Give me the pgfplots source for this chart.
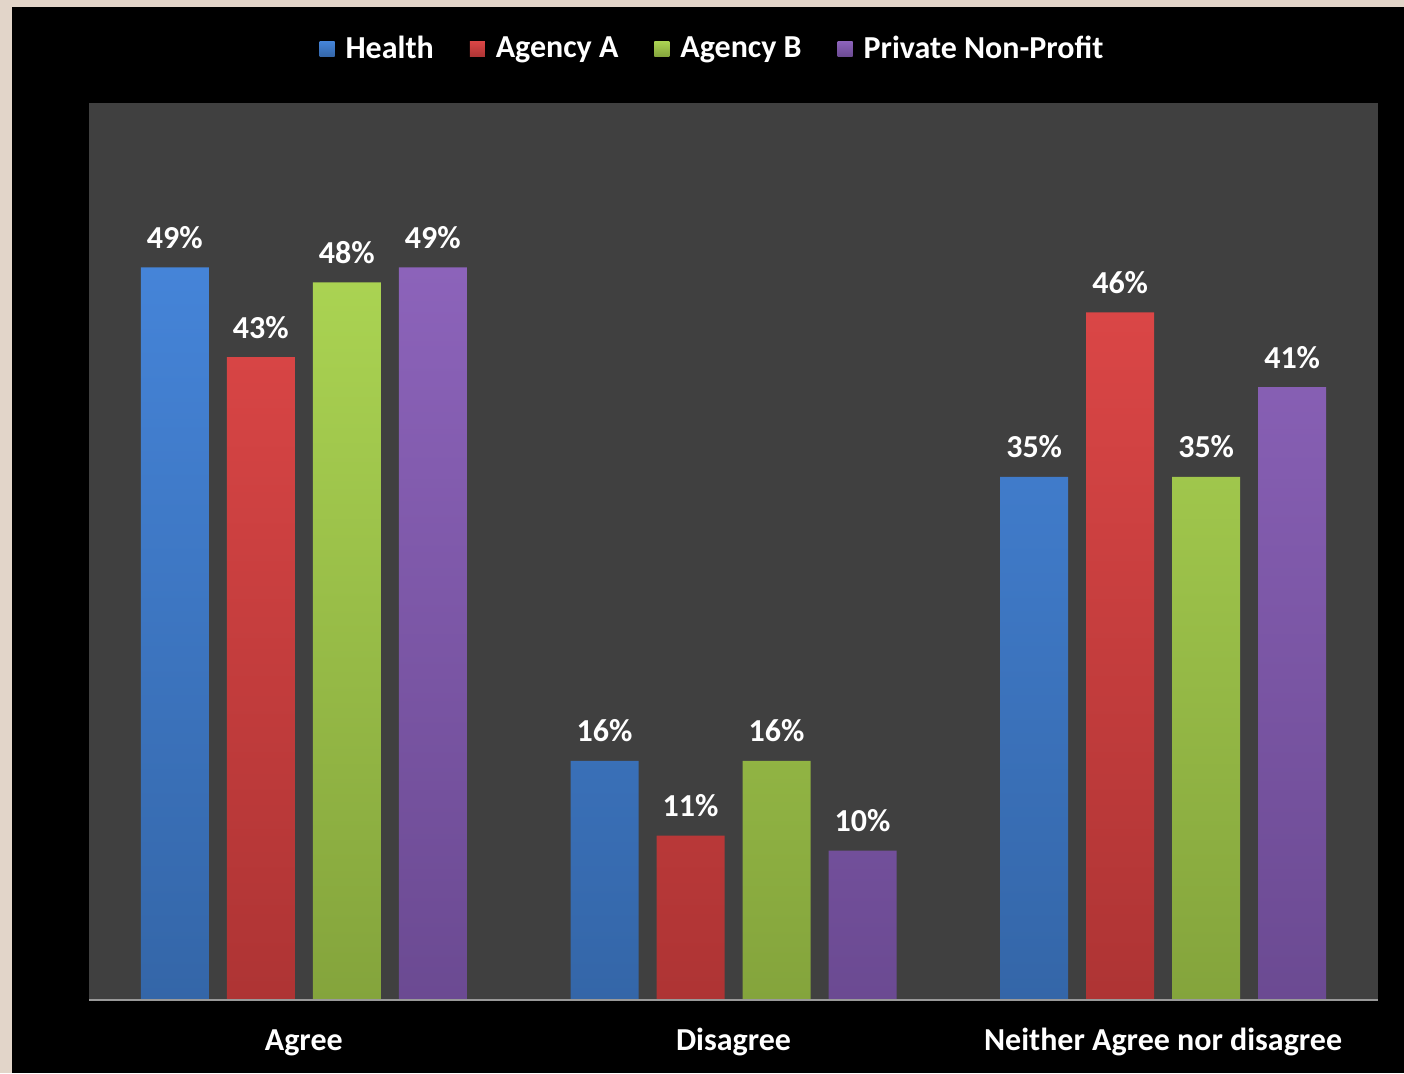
\documentclass[border=0pt]{standalone}
\usepackage{pgfplots}
\pgfplotsset{compat=1.18}
\usepackage{fontspec}
\setmainfont{Carlito}
\definecolor{beige}{HTML}{E2D5C9}
\definecolor{plotbg}{HTML}{404040}
\definecolor{bluetop}{HTML}{4584D8}
\definecolor{bluebot}{HTML}{3466A8}
\definecolor{redtop}{HTML}{DA4646}
\definecolor{redbot}{HTML}{AE3434}
\definecolor{greentop}{HTML}{AAD352}
\definecolor{greenbot}{HTML}{84A43C}
\definecolor{purptop}{HTML}{8C63BA}
\definecolor{purpbot}{HTML}{6B4A92}
\newcommand{\chartfont}{\fontsize{16}{19}\selectfont\bfseries}
\begin{document}
\begin{tikzpicture}
\fill[beige] (0,0) rectangle (702pt,536.5pt);
\fill[black] (6pt,0) rectangle (702pt,533pt);
\begin{axis}[
  at={(44.5pt,36.5pt)}, anchor=south west,
  width=644.5pt, height=448.5pt, scale only axis,
  xmin=-0.5, xmax=2.5, ymin=0, ymax=60,
  /pgf/number format/assume math mode=true,
  axis background/.style={fill=plotbg},
  axis line style={draw=none},
  ybar=9pt, bar width=34pt,
  xtick={0,1,2},
  xticklabels={Agree,Disagree,Neither Agree nor disagree},
  ytick=\empty,
  major tick length=0pt,
  x tick label style={font=\chartfont, text=white, anchor=base, yshift=-25pt},
  nodes near coords={\pgfmathprintnumber{\pgfplotspointmeta}\%},
  every node near coord/.append style={font=\chartfont, text=white, anchor=base, inner sep=0pt, yshift=9.5pt},
  legend columns=4,
  legend style={at={(0.5,1)}, anchor=center, xshift=-10pt, yshift=27pt,
    draw=none, fill=none, text=white, font=\chartfont,
    /tikz/every odd column/.append style={column sep=3.5pt},
    /tikz/every even column/.append style={column sep=16pt}},
  sq/.style={draw=none, legend image code/.code={\fill[##1] (0pt,-3.75pt) rectangle (7.5pt,3.75pt);}},
]
\addplot[sq, top color=bluetop, bottom color=bluebot] coordinates {(0,49) (1,16) (2,35)};
\addlegendentry{Health}
\addplot[sq, top color=redtop, bottom color=redbot] coordinates {(0,43) (1,11) (2,46)};
\addlegendentry{Agency A}
\addplot[sq, top color=greentop, bottom color=greenbot] coordinates {(0,48) (1,16) (2,35)};
\addlegendentry{Agency B}
\addplot[sq, top color=purptop, bottom color=purpbot] coordinates {(0,49) (1,10) (2,41)};
\addlegendentry{Private Non-Profit}
\draw[color=gray!80, line width=1pt] (rel axis cs:0,0) -- (rel axis cs:1,0);
\end{axis}
\end{tikzpicture}
\end{document}
